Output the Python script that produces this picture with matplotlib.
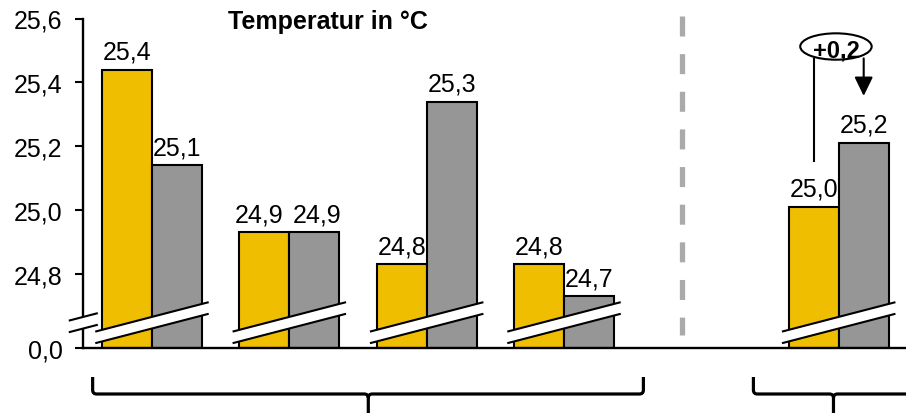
import numpy as np
import matplotlib
matplotlib.use("Agg")
import matplotlib.pyplot as plt
from matplotlib.patches import Polygon, Ellipse, PathPatch
from matplotlib.path import Path
from matplotlib.ticker import FuncFormatter, NullLocator
import matplotlib.transforms as mtransforms

plt.rcParams["font.family"] = ["Liberation Sans", "DejaVu Sans"]
plt.rcParams["lines.scale_dashes"] = False

# ---- data -------------------------------------------------------------
slots = [0, 1, 2, 3, 5]                       # group positions (slot 4 left empty)
temp_a = [25.44, 24.93, 24.83, 24.83, 25.01]  # yellow series, °C
temp_b = [25.14, 24.93, 25.34, 24.73, 25.21]  # gray series, °C
y_ticks = [0.0, 24.8, 25.0, 25.2, 25.4, 25.6]
title = "Temperatur in °C"
delta_label = "+0,2"

YELLOW = "#F0BE00"
GRAY = "#969696"
FONT = 18

# ---- broken y axis: 0 .. 24.6 is squeezed into a short band ----------
LOW_TOP = 24.6
OFFSET = 24.568
LOW_SPAN = LOW_TOP - OFFSET


def fwd(v):
    v = np.asarray(v, dtype=float)
    return np.where(v <= LOW_TOP, v * LOW_SPAN / LOW_TOP, v - OFFSET)


def inv(p):
    p = np.asarray(p, dtype=float)
    return np.where(p <= LOW_SPAN, p * LOW_TOP / LOW_SPAN, p + OFFSET)


fig = plt.figure(figsize=(9.06, 4.14), dpi=100)
ax = fig.add_axes([83.3 / 906, 65 / 414, (906 - 83.3) / 906, 329.5 / 414])
ax.set_yscale("function", functions=(fwd, inv))
ax.set_xlim(-0.5, 5.49)
ax.set_ylim(0, 25.6)

w = 0.364
x = np.array(slots, dtype=float)
bars_a = ax.bar(x - w / 2, temp_a, w, color=YELLOW, edgecolor="black",
                linewidth=1.5, zorder=2)
bars_b = ax.bar(x + w / 2, temp_b, w, color=GRAY, edgecolor="black",
                linewidth=1.5, zorder=2)


def fmt(v):
    return f"{v:.1f}".replace(".", ",")


# value labels; labels of a pair at equal height are nudged apart
for i, (ba, bb) in enumerate(zip(bars_a, bars_b)):
    level = abs(temp_a[i] - temp_b[i]) < 0.05
    for b, v, nudge in ((ba, temp_a[i], -4), (bb, temp_b[i], 2)):
        ax.annotate(fmt(v), (b.get_x() + b.get_width() / 2, v),
                    xytext=(nudge if level else 0, 8),
                    textcoords="offset points",
                    ha="center", va="baseline", fontsize=FONT, zorder=5)

# axes styling
ax.set_yticks(y_ticks)
ax.yaxis.set_major_formatter(FuncFormatter(lambda v, _: fmt(v)))
ax.yaxis.set_minor_locator(NullLocator())
ax.tick_params(axis="y", direction="out", length=6, width=1.5, pad=9,
               labelsize=FONT)
ax.tick_params(axis="x", bottom=False, labelbottom=False)
for s in ("top", "right"):
    ax.spines[s].set_visible(False)
for s in ("left", "bottom"):
    ax.spines[s].set_linewidth(1.7)

blend = mtransforms.blended_transform_factory(ax.transData, ax.transAxes)

# break strips (white band with two slanted edges)
STRIP_Y = 0.0768
STRIP_H = 0.0176
STRIP_SLOPE = 0.1081


def break_strip(xc, half):
    xl, xr = xc - half, xc + half
    yl = STRIP_Y + STRIP_SLOPE * (xl - xc)
    yr = STRIP_Y + STRIP_SLOPE * (xr - xc)
    ax.add_patch(Polygon([(xl, yl - STRIP_H), (xr, yr - STRIP_H),
                          (xr, yr + STRIP_H), (xl, yl + STRIP_H)],
                         closed=True, facecolor="white", edgecolor="none",
                         transform=blend, zorder=3, clip_on=False))
    for sgn in (-1, 1):
        ax.plot([xl, xr], [yl + sgn * STRIP_H, yr + sgn * STRIP_H],
                color="black", lw=1.5, transform=blend, zorder=4,
                clip_on=False, solid_capstyle="butt")


for s in slots:
    break_strip(s, w + 0.049)
break_strip(-0.5, 0.1056)

# dashed separator
ax.plot([3.862, 3.862], [1.0076, 0.039], transform=blend, color="#AAAAAA",
        lw=3.8, dashes=(14.4, 12.7), solid_capstyle="butt",
        dash_capstyle="butt", clip_on=False, zorder=1)

# title
ax.text(0.551, 0.970, title, transform=blend, ha="left", va="baseline",
        fontsize=18, fontweight="bold")

# change marker between the last pair
xa_c = slots[-1] - w / 2
xb_c = slots[-1] + w / 2
ax.add_patch(Ellipse((4.98, 0.915), 0.52, 0.08, transform=blend,
                     facecolor="white", edgecolor="black", lw=1.5,
                     clip_on=False, zorder=5))
ax.text(4.98, 0.913, delta_label, transform=blend, ha="center",
        va="center_baseline", fontsize=17, fontweight="bold", zorder=6)
ax.plot([xa_c, xa_c], [0.568, 0.877], color="black", lw=1.5,
        transform=blend, clip_on=False, zorder=4)
ax.annotate("", xy=(xb_c, 0.765), xytext=(xb_c, 0.879),
            xycoords=blend, textcoords=blend,
            arrowprops=dict(arrowstyle="-|>,head_length=1.15,head_width=0.56",
                            mutation_scale=10, lw=1.5, color="black",
                            shrinkA=0, shrinkB=0), zorder=4)


# curly braces under the groups
def brace(xa, xm, xb):
    yt, yh, yb = -0.088, -0.1396, -0.25
    rx, ry = 0.029, 0.0121
    verts = [(xa, yt), (xa, yh + ry), (xa, yh), (xa + rx, yh),
             (xm - rx, yh), (xm, yh), (xm, yh - ry), (xm, yb),
             (xb, yt), (xb, yh + ry), (xb, yh), (xb - rx, yh),
             (xm + rx, yh), (xm, yh), (xm, yh - ry)]
    codes = [Path.MOVETO, Path.LINETO, Path.CURVE3, Path.CURVE3,
             Path.LINETO, Path.CURVE3, Path.CURVE3, Path.LINETO,
             Path.MOVETO, Path.LINETO, Path.CURVE3, Path.CURVE3,
             Path.LINETO, Path.CURVE3, Path.CURVE3]
    ax.add_patch(PathPatch(Path(verts, codes), facecolor="none",
                           edgecolor="black", lw=2.3, transform=blend,
                           clip_on=False, capstyle="butt", joinstyle="round"))


brace(-0.432, 1.575, 3.578)
brace(4.379, 4.962, 5.545)

fig.savefig("out.png", dpi=100)
